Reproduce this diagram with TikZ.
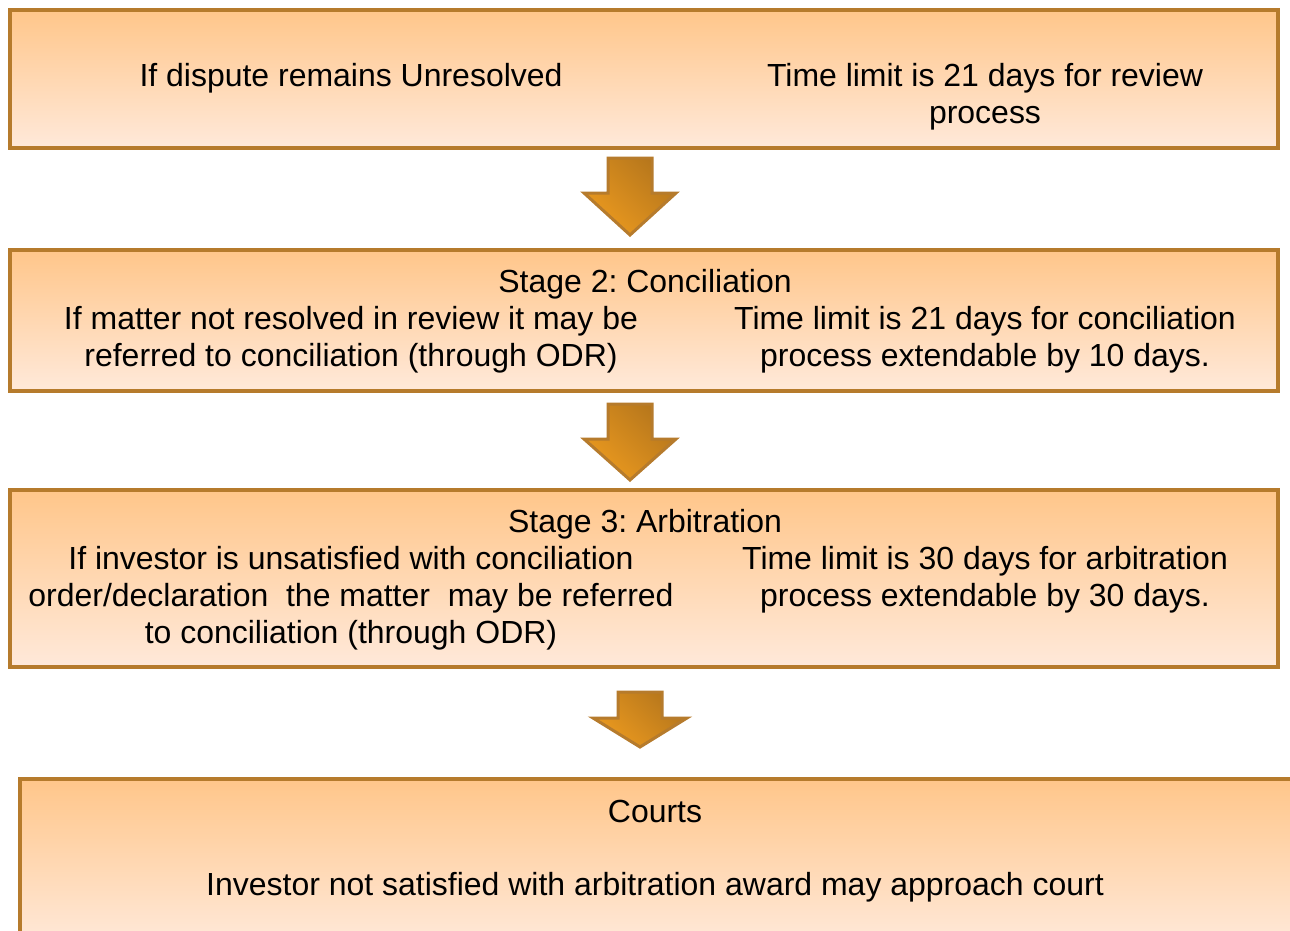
\documentclass[tikz,border=0pt]{standalone}
\usepackage{fontspec}
\setmainfont{Liberation Sans}
\usepackage{xcolor}
\usepackage{tikz}
\usetikzlibrary{positioning}
\frenchspacing

\definecolor{boxtop}{HTML}{FFC68A}
\definecolor{boxbottom}{HTML}{FFE9DA}
\definecolor{boxline}{HTML}{B67B2C}
\definecolor{arrowdark}{HTML}{B5761C}
\definecolor{arrowlight}{HTML}{EC9A1F}

\begin{document}
\begin{tikzpicture}[
                x = 0.02cm, y = -0.02cm,
                stage/.style = {draw = boxline, line width = 0.08cm, top color = boxtop, bottom color = boxbottom, minimum width = 25.36cm, inner sep = 0},
                txt/.style = {font = \fontsize{18.2}{21}\selectfont, align = center, inner sep = 0, anchor = base},
                blockarrow/.style = {draw = boxline, line width = 0.06cm, top color = arrowdark, bottom color = arrowlight, shading angle = -45}]
            \clip (0,0) rectangle (1290,930);
            % stage boxes
            \node[stage, minimum height = 2.76cm] (review) at (644,79) {};
            \node[stage, minimum height = 2.82cm] (concil) at (644,320.5) {};
            \node[stage, minimum height = 3.54cm] (arbit) at (644,578.5) {};
            \node[stage, minimum width = 25.6cm, minimum height = 3.32cm] (courts) at (660,862) {};
            % texts (base = last line)
            \node[txt] (reviewL) at (351,86) {If dispute remains Unresolved};
            \node[txt] (reviewR) at (985,123) {Time limit is 21 days for review\\process};
            \node[txt] (concilT) at (645,292) {Stage 2: Conciliation};
            \node[txt] (concilL) at (351,366) {If matter not resolved in review it may be\\referred to conciliation (through ODR)};
            \node[txt] (concilR) at (985,366) {Time limit is 21 days for conciliation\\process extendable by 10 days.};
            \node[txt] (arbitT) at (645,532) {Stage 3: Arbitration};
            \node[txt] (arbitL) at (351,643) {If investor is unsatisfied with conciliation\\order/declaration\ \ the matter\ \ may be referred\\to conciliation (through ODR)};
            \node[txt] (arbitR) at (985,606) {Time limit is 30 days for arbitration\\process extendable by 30 days.};
            \node[txt] (courtsT) at (655,822) {Courts};
            \node[txt] (courtsL) at (655,895) {Investor not satisfied with arbitration award may approach court};
            % block arrows
            \foreach \cx/\ty/\hy/\by/\hw in {630/158/193/235/46, 630/404/439/480/46, 640/692/718/747/47}
                \draw[blockarrow] (\cx-22,\ty) -- (\cx+22,\ty) -- (\cx+22,\hy) -- (\cx+\hw,\hy) -- (\cx,\by) -- (\cx-\hw,\hy) -- (\cx-22,\hy) -- cycle;
            \end{tikzpicture}
\end{document}
